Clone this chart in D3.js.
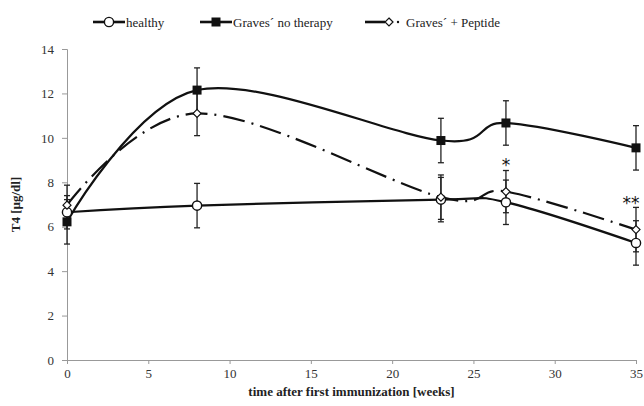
<!DOCTYPE html>
<html>
<head>
<meta charset="utf-8">
<script src="https://cdn.jsdelivr.net/npm/d3@7"></script>
<style>
  body { margin: 0; background: #fff; }
  text { font-family: "Liberation Serif", "DejaVu Serif", serif; }
</style>
</head>
<body>
<div id="chart"></div>
<script>
// weeks after first immunization
const weeks = [0, 8, 23, 27, 35];

const healthy = [6.65, 6.95, 7.22, 7.1, 5.27];
const healthyErr = [0.75, 1.0, 1.0, 1.0, 1.0];

const gravesNoTherapy = [6.22, 12.15, 9.88, 10.67, 9.55];
const gravesNoTherapyErr = [1.0, 1.0, 1.0, 1.0, 1.0];

const gravesPeptide = [6.97, 11.1, 7.33, 7.58, 5.87];
const gravesPeptideErr = [0.9, 1.0, 1.0, 0.95, 1.0];

// significance marks
const sigWeeks = [27, 35];
const sigLabels = ["*", "**"];
const sigValues = [8.98, 7.25];

const yTicks = [0, 2, 4, 6, 8, 10, 12, 14];
const xTicks = [0, 5, 10, 15, 20, 25, 30, 35];

const width = 644, height = 406;
const margin = { top: 49, right: 8, bottom: 46, left: 67 };

const svg = d3.select("#chart").append("svg")
  .attr("width", width)
  .attr("height", height);

const x = d3.scaleLinear().domain([0, 35]).range([margin.left, width - margin.right]);
const y = d3.scaleLinear().domain([0, 14]).range([height - margin.bottom, margin.top]);

// axes
const xAxis = svg.append("g")
  .attr("transform", `translate(0,${y(0)})`)
  .call(d3.axisBottom(x).tickValues(xTicks).tickSize(4).tickPadding(5));
const yAxis = svg.append("g")
  .attr("transform", `translate(${x(0)},0)`)
  .call(d3.axisLeft(y).tickValues(yTicks).tickSize(5).tickPadding(8));

[xAxis, yAxis].forEach(a => {
  a.select(".domain").attr("stroke", "#999");
  a.selectAll(".tick line").attr("stroke", "#999");
  a.selectAll(".tick text")
    .style("font-family", "'Liberation Serif', serif")
    .style("font-size", "13px")
    .attr("fill", "#333");
});

// axis titles
svg.append("text")
  .attr("x", (x(0) + x(35)) / 2)
  .attr("y", 396)
  .attr("text-anchor", "middle")
  .attr("font-size", 13)
  .attr("font-weight", "bold")
  .attr("fill", "#222")
  .text("time after first immunization [weeks]");

svg.append("text")
  .attr("transform", `translate(20,${y(7)}) rotate(-90)`)
  .attr("text-anchor", "middle")
  .attr("font-size", 13)
  .attr("font-weight", "bold")
  .attr("fill", "#222")
  .text("T4 [µg/dl]");

const series = [
  { name: "healthy", values: healthy, err: healthyErr, marker: "circle", dash: null },
  { name: "Graves´ no therapy", values: gravesNoTherapy, err: gravesNoTherapyErr, marker: "square", dash: null },
  { name: "Graves´ + Peptide", values: gravesPeptide, err: gravesPeptideErr, marker: "diamond", dash: "22,7,2,7" }
];

const line = d3.line()
  .x(d => x(d[0]))
  .y(d => y(d[1]))
  .curve(d3.curveCardinal.tension(0));

// error bars
series.forEach(s => {
  const g = svg.append("g").attr("stroke", "#222").attr("stroke-width", 1.3);
  weeks.forEach((w, i) => {
    const top = y(s.values[i] + s.err[i]);
    const bot = y(s.values[i] - s.err[i]);
    g.append("line").attr("x1", x(w)).attr("x2", x(w)).attr("y1", top).attr("y2", bot);
    g.append("line").attr("x1", x(w) - 3).attr("x2", x(w) + 3).attr("y1", top).attr("y2", top);
    g.append("line").attr("x1", x(w) - 3).attr("x2", x(w) + 3).attr("y1", bot).attr("y2", bot);
  });
});

// lines
series.forEach(s => {
  svg.append("path")
    .datum(weeks.map((w, i) => [w, s.values[i]]))
    .attr("d", line)
    .attr("fill", "none")
    .attr("stroke", "#111")
    .attr("stroke-width", 2.2)
    .attr("stroke-dasharray", s.dash);
});

function drawMarker(g, type, cx, cy) {
  if (type === "circle") {
    g.append("circle").attr("cx", cx).attr("cy", cy).attr("r", 4.6)
      .attr("fill", "#fff").attr("stroke", "#111").attr("stroke-width", 1.4);
  } else if (type === "square") {
    g.append("rect").attr("x", cx - 4.5).attr("y", cy - 4.5).attr("width", 9).attr("height", 9)
      .attr("fill", "#111");
  } else {
    g.append("path")
      .attr("d", `M${cx},${cy - 4}L${cx + 4},${cy}L${cx},${cy + 4}L${cx - 4},${cy}Z`)
      .attr("fill", "#fff").attr("stroke", "#111").attr("stroke-width", 1.2);
  }
}

// markers
series.forEach(s => {
  const g = svg.append("g");
  weeks.forEach((w, i) => drawMarker(g, s.marker, x(w), y(s.values[i])));
});

// significance stars (text centred on the value)
sigWeeks.forEach((w, i) => {
  svg.append("text")
    .attr("x", x(w) - (i === 1 ? 5 : 0))
    .attr("y", y(sigValues[i]) + 10)
    .attr("text-anchor", "middle")
    .style("font-family", "'DejaVu Sans', sans-serif")
    .attr("font-size", 17)
    .attr("fill", "#111")
    .text(sigLabels[i]);
});

// legend
const legendX = [93, 200, 365];
series.forEach((s, i) => {
  const g = svg.append("g").attr("transform", `translate(${legendX[i]},22)`);
  if (s.dash) {
    g.append("line").attr("x1", 0).attr("x2", 20).attr("y1", 0).attr("y2", 0)
      .attr("stroke", "#111").attr("stroke-width", 2.6);
    g.append("circle").attr("cx", 33).attr("cy", 0).attr("r", 1.2).attr("fill", "#111");
    drawMarker(g, s.marker, 24, 0);
    g.append("text").attr("x", 41).attr("y", 5).attr("font-size", 13).attr("fill", "#222").text(s.name);
  } else {
    g.append("line").attr("x1", 0).attr("x2", 32).attr("y1", 0).attr("y2", 0)
      .attr("stroke", "#111").attr("stroke-width", 2.6);
    drawMarker(g, s.marker, 16, 0);
    g.append("text").attr("x", 33).attr("y", 5).attr("font-size", 13).attr("fill", "#222").text(s.name);
  }
});
</script>
</body>
</html>
